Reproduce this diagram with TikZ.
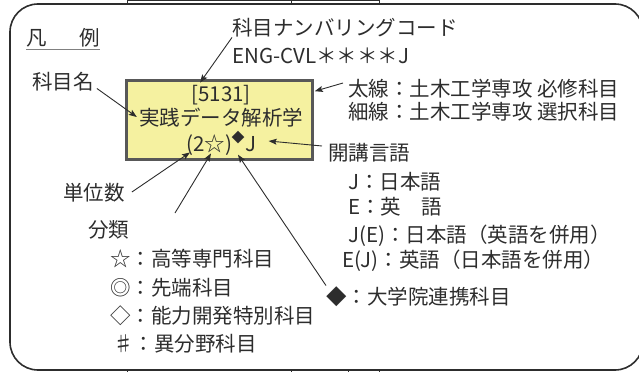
\documentclass[tikz,border=0pt]{standalone}
\usepackage{fontspec}
\setmainfont{Noto Sans CJK JP}
\usepackage{tikz}
\usetikzlibrary{arrows.meta}
\usetikzlibrary{positioning}
\definecolor{boxfill}{RGB}{245,241,160}
\definecolor{boxline}{RGB}{88,88,88}
\definecolor{inkgray}{RGB}{45,45,45}
\tikzstyle{lbl}=[inkgray, shape=rectangle, inner sep=0pt, anchor=west, text height=19pt, text depth=1.5pt, font=\fontsize{20.5}{24}\selectfont]
\tikzstyle{boxtxt}=[lbl, anchor=center]
\tikzstyle{pointer}=[-{Stealth[length=8pt, width=6pt, inset=1.5pt]}, line width=0.9pt, color=inkgray]
\tikzstyle{plainline}=[line width=0.9pt, color=inkgray]

\begin{document}
\begin{tikzpicture}[x=1pt, y=-1pt]
\useasboundingbox (0,0) rectangle (639,372);

% table lines peeking out
\draw [plainline, line width=0.7pt] (127,0.5) -- (379,0.5);
\foreach \xx in {127, 291, 379} {
  \draw [plainline, line width=0.7pt] (\xx,0) -- (\xx,4);
}
\foreach \xx in {127, 291, 348, 379} {
  \draw [plainline, line width=0.7pt] (\xx,370) -- (\xx,372);
}
% outer frame
\draw [line width=1.6pt, color=inkgray, rounded corners=28pt] (10,4) rectangle (643,370);

% subject box
\node [draw=boxline, fill=boxfill, line width=2.6pt, shape=rectangle, minimum width=186pt, minimum height=79pt, inner sep=0pt] (subject) at (219.5,120) {};
\node [boxtxt] (code) at (221,93) {[5131]};
\node [boxtxt] (name) at (221,117) {実践データ解析学};
\node [boxtxt] (credit) at (196,143) {(2};
\node [boxtxt] (star) at (215,143) {☆};
\node [boxtxt] (close) at (229,143) {)};
\node [boxtxt, text height=11.5pt, text depth=1.5pt, font=\fontsize{13}{15}\selectfont] (grad) at (238,137) {◆};
\node [boxtxt] (lang) at (251,143) {J};

% labels
\node [lbl] (legend) at (26,37) {凡\hspace{1.6em}例};
\node [lbl] (numbering) at (232,27) {科目ナンバリングコード};
\node [lbl] (codefmt) at (232,55) {ENG-CVL＊＊＊＊J};
\node [lbl] (kamoku) at (32,81) {科目名};
\node [lbl] (futo) at (348,88) {太線：土木工学専攻 必修科目};
\node [lbl] (hoso) at (348,111) {細線：土木工学専攻 選択科目};
\node [lbl] (kaiko) at (328,152) {開講言語};
\node [lbl] (langj) at (348,181) {J：日本語};
\node [lbl] (lange) at (348,206) {E：英　語};
\node [lbl] (langje) at (348,234) {J(E)：日本語（英語を併用）};
\node [lbl] (langej) at (342,259) {E(J)：英語（日本語を併用）};
\node [lbl] (daigakuin) at (326,296) {◆：大学院連携科目};
\node [lbl] (tanni) at (63,192) {単位数};
\node [lbl] (bunrui) at (88,229) {分類};
\node [lbl] (koto) at (110,258) {☆：高等専門科目};
\node [lbl] (sentan) at (110,287) {◎：先端科目};
\node [lbl] (noryoku) at (110,315) {◇：能力開発特別科目};
\node [lbl] (ibunya) at (113,343) {♯：異分野科目};
\coordinate (bunruitail) at (175,213);

\draw [color=gray, line width=1pt] ([yshift=-2pt]legend.south west) -- ([yshift=-2pt]legend.south east);

% pointers
\draw [pointer] (numbering.south west) -- ([xshift=9pt]code.north west);
\draw [pointer] ([xshift=3pt,yshift=3pt]kamoku.south east) -- ([xshift=-2pt]name.west);
\draw [pointer] ([xshift=-5pt,yshift=5pt]futo.west) -- ([xshift=1pt,yshift=-12pt]subject.north east);
\draw [pointer] ([xshift=-6pt,yshift=6pt]kaiko.west) -- ([xshift=12pt,yshift=2pt]lang.east);
\draw [pointer] ([xshift=7pt]tanni.east) -- ([xshift=-6pt,yshift=1pt]credit.south);
\draw [pointer] (bunruitail) -- ([xshift=-4pt]star.south);
\draw [pointer] (daigakuin.north west) -- ([yshift=-11pt]grad.south);
\end{tikzpicture}
\end{document}
